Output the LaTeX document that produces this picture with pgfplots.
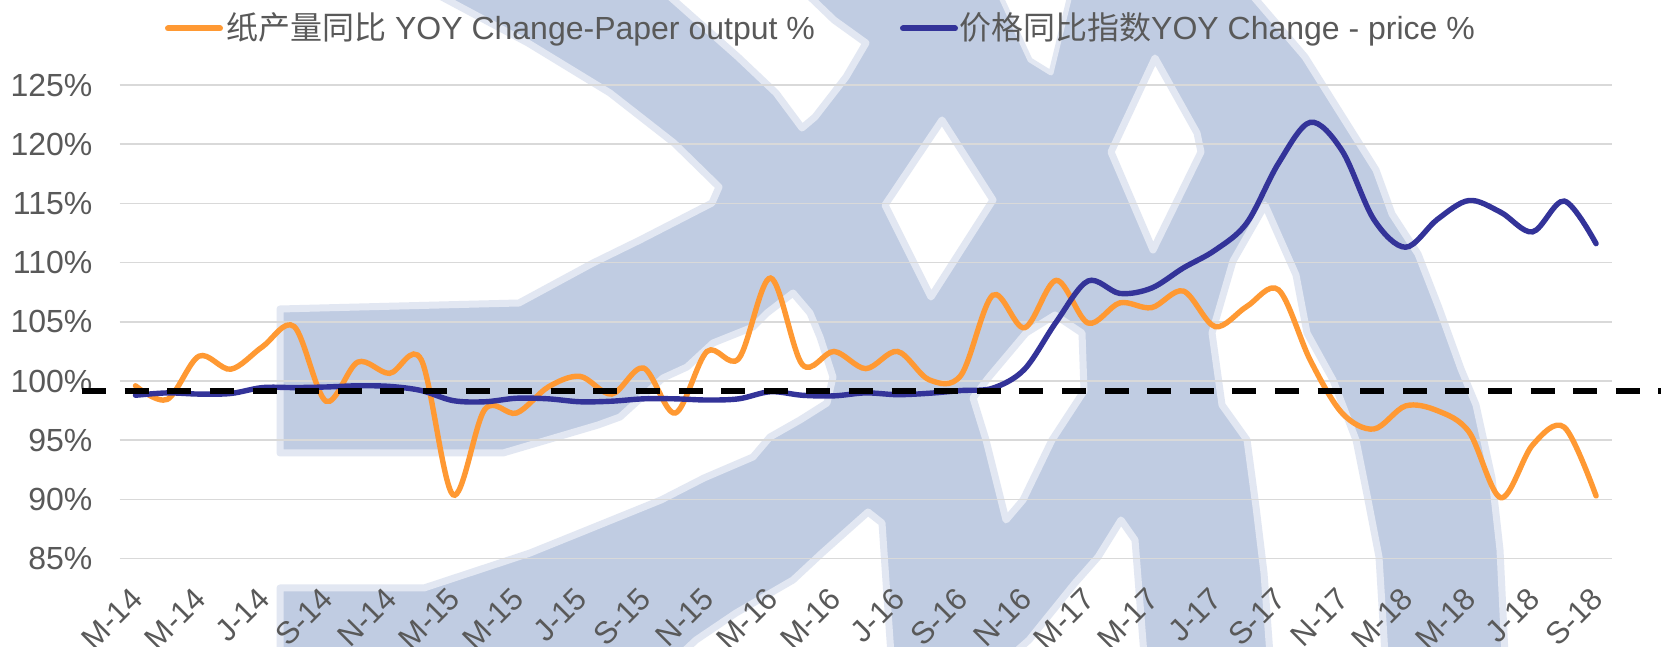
\documentclass[border=0pt]{standalone}
\usepackage{pgfplots}
\pgfplotsset{compat=1.18}
\usepackage{fontspec}
\setmainfont{Liberation Sans}
\newfontfamily\cjk{Noto Sans CJK SC}
\definecolor{wm}{RGB}{192,204,226}
\definecolor{wmedge}{RGB}{226,231,242}
\definecolor{txt}{RGB}{89,89,89}
\definecolor{gridc}{RGB}{217,217,217}
\definecolor{orangeL}{RGB}{255,153,51}
\definecolor{blueL}{RGB}{51,51,153}
\pgfplotstableread{
i paper price
0 99.6 98.8
1 98.45 99.0
2 102.1 98.9
3 101.0 98.95
4 102.9 99.45
5 104.6 99.45
6 98.3 99.5
7 101.6 99.6
8 100.65 99.55
9 101.8 99.2
10 90.4 98.35
11 97.6 98.25
12 97.3 98.55
13 99.5 98.5
14 100.4 98.25
15 98.9 98.3
16 101.1 98.5
17 97.3 98.5
18 102.5 98.4
19 101.9 98.5
20 108.7 99.1
21 101.4 98.8
22 102.5 98.75
23 101.05 99.0
24 102.5 98.85
25 100.1 98.97
26 100.5 99.2
27 107.25 99.4
28 104.5 101.0
29 108.5 105.0
30 104.9 108.45
31 106.6 107.4
32 106.2 107.85
33 107.6 109.55
34 104.6 111.05
35 106.3 113.35
36 107.7 118.4
37 101.75 121.85
38 97.3 119.45
39 95.95 113.65
40 97.9 111.3
41 97.5 113.65
42 95.7 115.25
43 90.15 114.25
44 94.6 112.6
45 96.1 115.2
46 90.3 111.6
}\datatable
\begin{document}
\begin{tikzpicture}
\clip (0pt,0pt) rectangle (1661pt,647pt);
\path[fill=white] (0pt,0pt) rectangle (1661pt,647pt);
\begin{scope}[x=1pt,y=-1pt,shift={(0pt,647pt)}]
\path[fill=wm,draw=wmedge,line width=7pt,line join=round]
 (280,309) -- (519,303) -- (593,263) -- (640,240) -- (712,203) -- (719,187) -- (674,143) -- (610,93) -- (528,43) -- (438,-5)
 -- (1252,-5) -- (1305,57) -- (1332,100) -- (1376,170) -- (1392,214) -- (1418,254) -- (1439,308) -- (1461,369) -- (1476,405) -- (1492,478) -- (1500,550) -- (1505,655)
 -- (280,655) -- (280,588) -- (424,588) -- (530,553) -- (582,532) -- (661,500) -- (704,478) -- (753,457) -- (770,437) -- (800,420) -- (827,403) -- (833,377) -- (820,337) -- (810,313) -- (793,293) -- (767,313) -- (753,327) -- (713,343) -- (687,367) -- (663,378) -- (620,417) -- (598,425) -- (503,453) -- (280,453) -- cycle;
\path[fill=white,draw=wmedge,line width=7pt,line join=round] (668,-5) -- (808,-5) -- (834,20) -- (866,43) -- (846,77) -- (815,117) -- (802,128) -- (776,93) -- (738,57) -- cycle;
\path[fill=white,draw=wmedge,line width=5pt,line join=round] (1000,-5) -- (1070,-5) -- (1051,73) -- (1030,60) -- cycle;
\path[fill=white,draw=wmedge,line width=7pt,line join=round] (942,120) -- (993,200) -- (931,297) -- (885,205) -- cycle;
\path[fill=white,draw=wmedge,line width=7pt,line join=round] (1155,58) -- (1197,133) -- (1201,152) -- (1153,250) -- (1111,152) -- cycle;
\path[fill=white,draw=wmedge,line width=7pt,line join=round] (973,398) -- (989,377) -- (1026,333) -- (1055,315) -- (1082,333) -- (1084,391) -- (1052,440) -- (1023,500) -- (1006,520) -- (986,440) -- cycle;
\path[fill=white,draw=wmedge,line width=7pt,line join=round] (1265,205) -- (1233,261) -- (1212,333) -- (1222,405) -- (1247,440) -- (1256,507) -- (1264,573) -- (1270,655) -- (1385,655) -- (1379,557) -- (1368,500) -- (1356,440) -- (1333,380) -- (1307,333) -- (1296,275) -- cycle;
\path[fill=white,draw=wmedge,line width=7pt,line join=round] (868,512) -- (882,523) -- (891,655) -- (680,655) -- (696,640) -- (736,613) -- (793,580) -- (822,553) -- cycle;
\path[fill=white,draw=wmedge,line width=7pt,line join=round] (1121,520) -- (1135,540) -- (1144,655) -- (1012,655) -- (1029,640) -- (1075,583) -- (1098,557) -- cycle;
\end{scope}
\begin{axis}[
  at={(119.6pt,88.3pt)}, anchor=south west,
  scale only axis, width=1492.4pt, height=473.7pt,
  xmin=-0.5, xmax=46.5, ymin=85, ymax=125,
  axis line style={draw=none},
  clip=false,
  xtick={0,2,...,46},
  xticklabels={M-14,M-14,J-14,S-14,N-14,M-15,M-15,J-15,S-15,N-15,M-16,M-16,J-16,S-16,N-16,M-17,M-17,J-17,S-17,N-17,M-18,M-18,J-18,S-18},
  xticklabel style={rotate=45,anchor=north east,font=\fontsize{31}{31}\selectfont,text=txt,inner sep=0pt,xshift=-23.6pt,yshift=-14.7pt},
  ytick={85,90,...,125},
  yticklabel={\pgfmathprintnumber{\tick}\%},
  /pgf/number format/assume math mode=true,
  yticklabel style={font=\fontsize{32}{32}\selectfont,text=txt,inner sep=0pt,xshift=-27pt},
  major tick length=0pt,
  ymajorgrids, grid style={draw=gridc,line width=1.6pt},
]
\addplot[orangeL,line width=5.4pt,smooth,tension=0.55,line cap=round] table[x=i,y=paper]{\datatable};
\addplot[blueL,line width=5.4pt,smooth,tension=0.55,line cap=round] table[x=i,y=price]{\datatable};
\addplot[black,line width=5.4pt,dash pattern=on 24pt off 18.6pt] coordinates {(-1.68,99.15) (49,99.15)};
\end{axis}
\begin{scope}[x=1pt,y=-1pt,shift={(0pt,647pt)}]
\draw[orangeL,line width=6pt,line cap=round] (168,28.5) -- (220,28.5);
\node[anchor=west,inner sep=0pt,text=txt,font=\fontsize{32}{32}\selectfont] at (226,29.5) {{\cjk 纸产量同比} YOY Change-Paper output \%};
\draw[blueL,line width=6pt,line cap=round] (903,28.5) -- (955,28.5);
\node[anchor=west,inner sep=0pt,text=txt,font=\fontsize{32}{32}\selectfont] at (959,29.5) {{\cjk 价格同比指数}YOY Change - price \%};
\end{scope}
\end{tikzpicture}
\end{document}
